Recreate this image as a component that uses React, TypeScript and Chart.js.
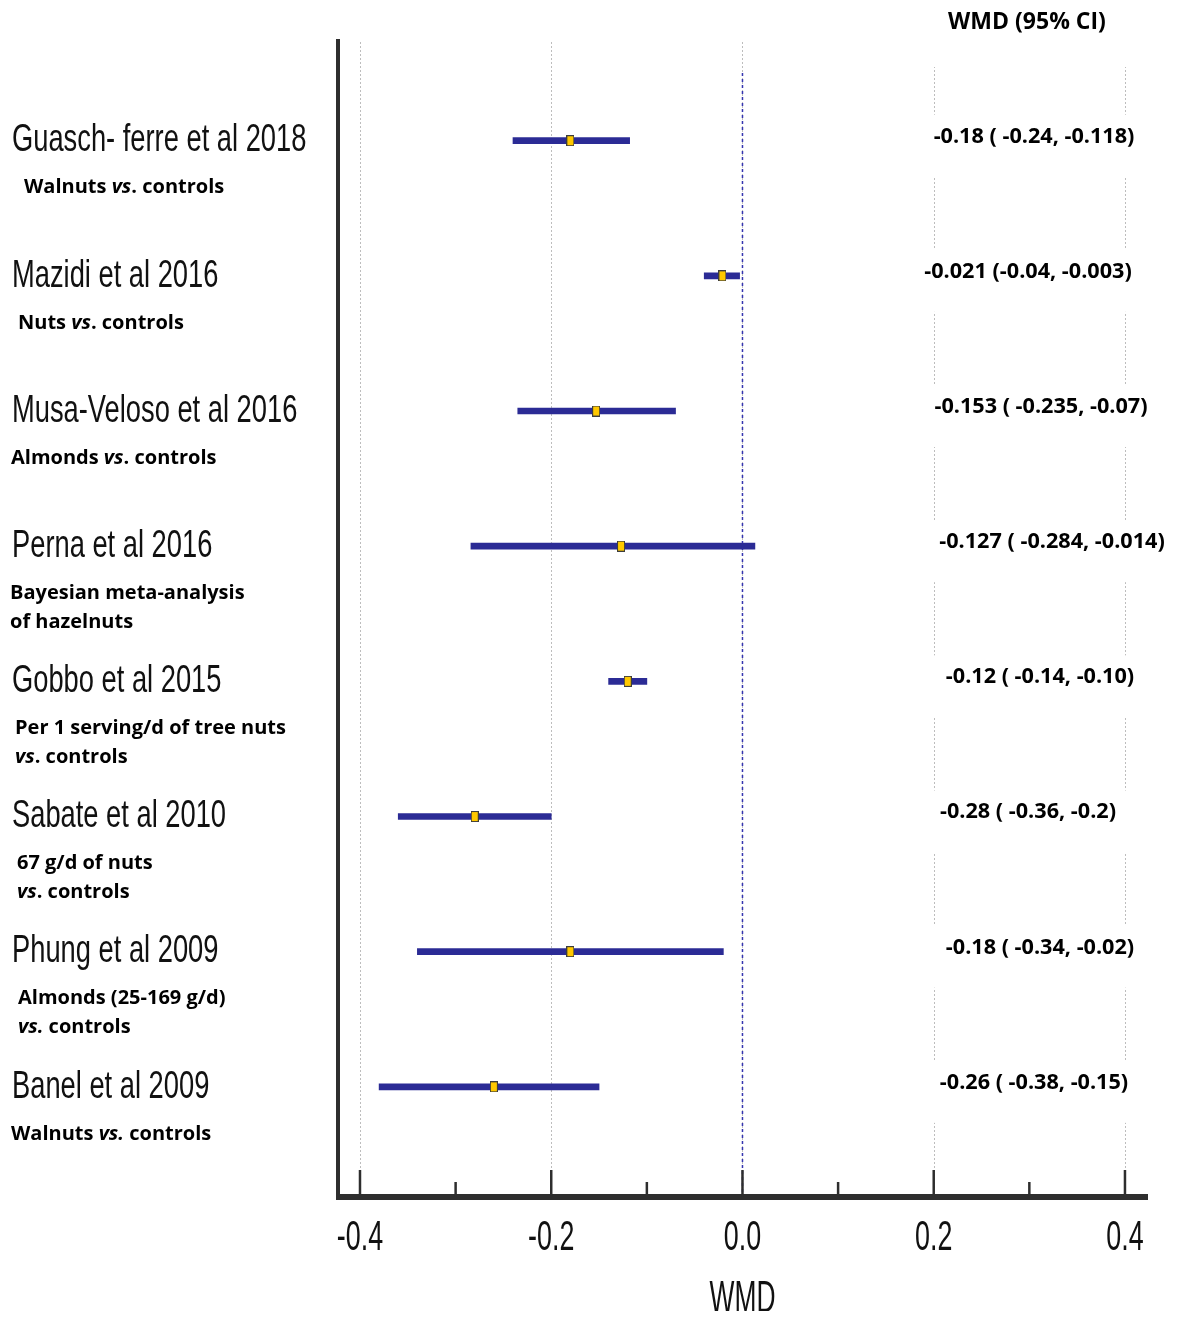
import React, { useEffect, useRef } from "react";
import { Chart, registerables } from "chart.js";

Chart.register(...registerables);

const studies = [
  "Guasch- ferre et al 2018",
  "Mazidi et al 2016",
  "Musa-Veloso et al 2016",
  "Perna et al 2016",
  "Gobbo et al 2015",
  "Sabate et al 2010",
  "Phung et al 2009",
  "Banel et al 2009",
];

const subLabels: string[][] = [
  ["Walnuts *vs*. controls"],
  ["Nuts *vs*. controls"],
  ["Almonds *vs*. controls"],
  ["Bayesian meta-analysis", "of hazelnuts"],
  ["Per 1 serving/d of tree nuts", "*vs*. controls"],
  ["67 g/d of nuts", "*vs*. controls"],
  ["Almonds (25-169 g/d)", "*vs.* controls"],
  ["Walnuts *vs.* controls"],
];

const estimates = [-0.18, -0.021, -0.153, -0.127, -0.12, -0.28, -0.18, -0.26];
const lowerCI = [-0.24, -0.04, -0.235, -0.284, -0.14, -0.36, -0.34, -0.38];
const upperCI = [-0.118, -0.003, -0.07, 0.013, -0.10, -0.2, -0.02, -0.15];

const ciLabels = [
  "-0.18 ( -0.24, -0.118)",
  "-0.021 (-0.04, -0.003)",
  "-0.153 ( -0.235, -0.07)",
  "-0.127 ( -0.284, -0.014)",
  "-0.12 ( -0.14, -0.10)",
  "-0.28 ( -0.36, -0.2)",
  "-0.18 ( -0.34, -0.02)",
  "-0.26 ( -0.38, -0.15)",
];

const majorTicks = [-0.4, -0.2, 0.0, 0.2, 0.4];
const minorTicks = [-0.3, -0.1, 0.1, 0.3];
const tickLabels = ["-0.4", "-0.2", "0.0", "0.2", "0.4"];
const xTitle = "WMD";
const headerTitle = "WMD (95% CI)";

// layout-only (page px)
const subIndent = [16, 10, 3, 2, 7, 9, 10, 3];
const ciCenter = [1034, 1028, 1041, 1052, 1040, 1028, 1040, 1034];

function drawScaled(
  ctx: CanvasRenderingContext2D,
  text: string,
  x: number,
  y: number,
  font: string,
  sx: number,
  align: CanvasTextAlign
) {
  ctx.save();
  ctx.font = font;
  ctx.textAlign = align;
  ctx.textBaseline = "middle";
  ctx.translate(x, y);
  ctx.scale(sx, 1);
  ctx.fillText(text, 0, 0);
  ctx.restore();
}

function drawRich(
  ctx: CanvasRenderingContext2D,
  text: string,
  x: number,
  y: number,
  size: number,
  sx: number
) {
  const parts = text.split("*");
  ctx.save();
  ctx.translate(x, y);
  ctx.scale(sx, 1);
  ctx.textBaseline = "middle";
  ctx.textAlign = "left";
  let cx = 0;
  parts.forEach((p, i) => {
    ctx.font = (i % 2 === 1 ? "italic " : "") + `bold ${size}px "Open Sans"`;
    ctx.fillText(p, cx, 0);
    cx += ctx.measureText(p).width;
  });
  ctx.restore();
}

const forestPlugin = {
  id: "forestDecor",
  beforeDatasetsDraw(chart: any) {
    const ctx: CanvasRenderingContext2D = chart.ctx;
    const xs = chart.scales.x;
    const ys = chart.scales.y;
    const { top, bottom, left, right } = chart.chartArea;
    ctx.save();
    ctx.fillStyle = "#000";

    // gridlines
    ctx.strokeStyle = "#bdbdbd";
    ctx.lineWidth = 1;
    ctx.setLineDash([2, 2]);
    majorTicks.forEach((v) => {
      const x = Math.round(xs.getPixelForValue(v)) + 0.5;
      ctx.beginPath();
      ctx.moveTo(x, top + 2);
      ctx.lineTo(x, bottom);
      ctx.stroke();
    });
    ctx.setLineDash([]);

    // header box
    ctx.fillStyle = "#fff";
    ctx.fillRect(890, 0, 274, 59);
    ctx.fillStyle = "#000";
    drawScaled(ctx, headerTitle, 1019, 14, 'bold 23px "Open Sans"', 1.0, "center");

    // right CI texts
    ciLabels.forEach((t, i) => {
      const y = ys.getPixelForValue(i);
      ctx.fillStyle = "#fff";
      ctx.fillRect(890, y - 26, 274, 62);
      ctx.fillStyle = "#000";
      drawScaled(ctx, t, ciCenter[i] - 8, y - 4, 'bold 21px "Open Sans"', 1.03, "center");
    });

    // zero line
    const x0 = xs.getPixelForValue(0);
    ctx.strokeStyle = "#3535b0";
    ctx.lineWidth = 1.5;
    ctx.setLineDash([3, 3]);
    ctx.beginPath();
    ctx.moveTo(x0, 65);
    ctx.lineTo(x0, bottom);
    ctx.stroke();
    ctx.setLineDash([]);

    // axes
    ctx.strokeStyle = "#2e2e2e";
    ctx.lineWidth = 4;
    ctx.beginPath();
    ctx.moveTo(left, top - 1);
    ctx.lineTo(left, bottom);
    ctx.stroke();
    ctx.lineWidth = 6;
    ctx.beginPath();
    ctx.moveTo(left - 2, bottom);
    ctx.lineTo(right + 2, bottom);
    ctx.stroke();

    ctx.lineWidth = 2.5;
    majorTicks.forEach((v) => {
      const x = xs.getPixelForValue(v);
      ctx.beginPath();
      ctx.moveTo(x, bottom - 27);
      ctx.lineTo(x, bottom);
      ctx.stroke();
    });
    minorTicks.forEach((v) => {
      const x = xs.getPixelForValue(v);
      ctx.beginPath();
      ctx.moveTo(x, bottom - 15);
      ctx.lineTo(x, bottom);
      ctx.stroke();
    });

    ctx.fillStyle = "#111";
    majorTicks.forEach((v, i) => {
      const x = xs.getPixelForValue(v);
      drawScaled(ctx, tickLabels[i], x, bottom + 41, '42px "Liberation Sans"', 0.64, "center");
    });
    drawScaled(ctx, xTitle, xs.getPixelForValue(0), bottom + 103, '44px "Liberation Sans"', 0.6, "center");

    // left labels
    studies.forEach((s, i) => {
      const y = ys.getPixelForValue(i);
      ctx.fillStyle = "#111";
      drawScaled(ctx, s, 4, y, '39px "Liberation Sans"', 0.7, "left");
      ctx.fillStyle = "#000";
      subLabels[i].forEach((line, j) => {
        drawRich(ctx, line, subIndent[i], y + 47 + j * 29, 20, 1.0);
      });
    });

    ctx.restore();
  },
};

function makeMarker(): HTMLCanvasElement {
  const c = document.createElement("canvas");
  c.width = 8;
  c.height = 11;
  const g = c.getContext("2d")!;
  g.fillStyle = "#3d3d3d";
  g.fillRect(0, 0, 8, 11);
  g.fillStyle = "#ffc800";
  g.fillRect(1, 1, 6, 9);
  return c;
}

export default function App() {
  const ref = useRef<HTMLCanvasElement | null>(null);
  useEffect(() => {
    if (!ref.current) return;
    const marker = makeMarker();
    const chart = new Chart(ref.current, {
      type: "bar",
      data: {
        datasets: [
          {
            type: "scatter",
            order: 0,
            data: estimates.map((e, i) => ({ x: e, y: i })),
            pointStyle: marker as any,
            pointRadius: 5,
          } as any,
          {
            type: "bar",
            order: 1,
            indexAxis: "y",
            data: studies.map((_, i) => ({ x: [lowerCI[i], upperCI[i]], y: i })) as any,
            backgroundColor: "#2b2b95",
            borderWidth: 0,
            barThickness: 6,
            borderSkipped: false,
          } as any,
        ],
      },
      options: {
        responsive: false,
        animation: false,
        layout: { padding: { left: 330, top: 32, right: 26, bottom: 114 } },
        plugins: { legend: { display: false }, tooltip: { enabled: false } },
        scales: {
          x: { type: "linear", min: -0.423, max: 0.422, offset: false, display: false },
          y: { type: "linear", min: -0.745, max: 7.815, reverse: true, offset: false, display: false },
        },
      },
      plugins: [forestPlugin],
    });
    return () => chart.destroy();
  }, []);
  return <canvas ref={ref} width={1164} height={1303} style={{ display: "block" }} />;
}
